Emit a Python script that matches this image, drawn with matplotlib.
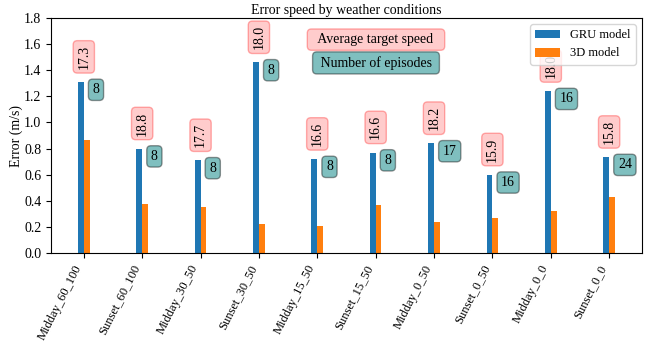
import matplotlib
matplotlib.use("Agg")
import matplotlib.pyplot as plt
import numpy as np

plt.rcParams['font.family'] = ['Liberation Serif', 'DejaVu Serif']
plt.rcParams['font.size'] = 10

conditions = ["Midday_60_100", "Sunset_60_100", "Midday_30_50", "Sunset_30_50",
              "Midday_15_50", "Sunset_15_50", "Midday_0_50", "Sunset_0_50",
              "Midday_0_0", "Sunset_0_0"]
gru_error = [1.31, 0.80, 0.71, 1.46, 0.72, 0.77, 0.84, 0.60, 1.24, 0.735]
model3d_error = [0.865, 0.374, 0.351, 0.220, 0.205, 0.366, 0.236, 0.266, 0.323, 0.428]
avg_speed = ["17.3", "18.8", "17.7", "18.0", "16.6", "16.6", "18.2", "15.9", "18.0", "15.8"]
n_episodes = [8, 8, 8, 8, 8, 8, 17, 16, 16, 24]

fig = plt.figure(figsize=(6.47, 3.60), dpi=100)
ax = fig.add_axes([0.079, 0.297, 0.913, 0.653])

x = np.arange(len(conditions))
w = 0.1
ax.bar(x - w / 2, gru_error, w, label="GRU model", color="tab:blue")
ax.bar(x + w / 2, model3d_error, w, label="3D model", color="tab:orange")

speed_box = dict(boxstyle="round", facecolor=(1, 0, 0, 0.2), edgecolor=(1, 0, 0, 0.3))
count_box = dict(boxstyle="round", facecolor=(0, 0.5, 0.5, 0.5), edgecolor=(0, 0, 0, 0.4))

for i in range(len(conditions)):
    ax.text(x[i], gru_error[i] + 0.1, avg_speed[i], rotation=90,
            ha="center", va="bottom", bbox=speed_box)
    ax.text(x[i] + 0.15, gru_error[i] - 0.01, str(n_episodes[i]),
            ha="left", va="top", bbox=count_box)

ax.text(0.55, 0.908, "  Average target speed  ", transform=ax.transAxes,
        ha="center", va="center", bbox=speed_box)
ax.text(0.55, 0.809, " Number of episodes ", transform=ax.transAxes,
        ha="center", va="center", bbox=count_box)

ax.set_ylim(0, 1.8)
ax.set_yticks(np.arange(0, 1.81, 0.2))
ax.set_xticks(x)
ax.set_xticklabels(conditions, rotation=63, ha="right", fontsize=9)
ax.set_ylabel("Error (m/s)", labelpad=1)
ax.set_title("Error speed by weather conditions", fontsize=10, pad=3)
ax.legend(loc="upper right", fontsize=9)

fig.savefig("out.png", dpi=100)
